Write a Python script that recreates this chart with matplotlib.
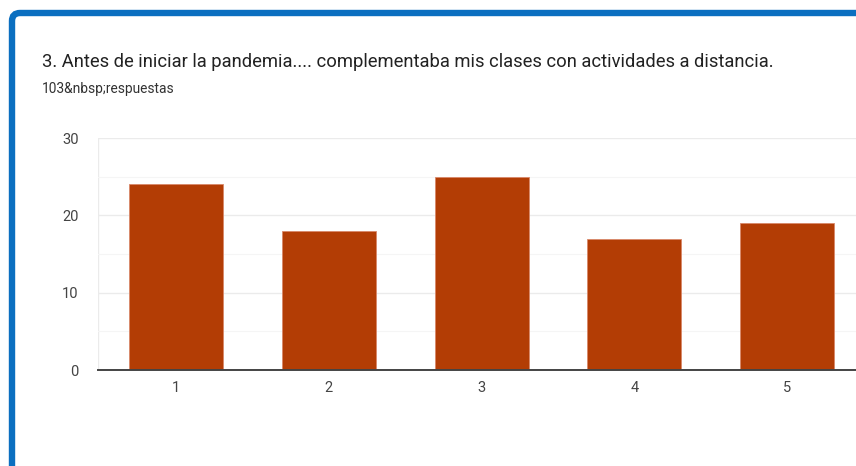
import matplotlib.pyplot as plt
from matplotlib.patches import FancyBboxPatch
from matplotlib.transforms import IdentityTransform

plt.rcParams['font.family'] = ['Roboto', 'DejaVu Sans']

# data
categorias = [1, 2, 3, 4, 5]
respuestas = [24, 18, 25, 17, 19]
y_ticks = [0, 10, 20, 30]

titulo = '3. Antes de iniciar la pandemia.... complementaba mis clases con actividades a distancia.'
subtitulo = '103&nbsp;respuestas'

W, H = 856, 466
fig = plt.figure(figsize=(W / 100, H / 100), dpi=100)

# marco azul (esquina redondeada arriba-izquierda)
marco = FancyBboxPatch((12, 0 - 50), W + 100, H - 13 + 50,
                       boxstyle='round,pad=0,rounding_size=8',
                       linewidth=4.6, edgecolor='#0b6fc0', facecolor='none',
                       transform=IdentityTransform())
fig.patches.append(marco)

fig.text(42 / W, 1 - 62 / H, titulo, fontsize=13.25, color='#222222', va='center', ha='left')
fig.text(42 / W, 1 - 89 / H, subtitulo, fontsize=9.9, color='#333333', va='center', ha='left')

ax = fig.add_axes([98 / W, 1 - 370 / H, 1 - 98 / W, (370 - 138) / H])
ax.bar(categorias, respuestas, width=0.615, color='#b33d05', edgecolor='#d9886a', linewidth=0.6, zorder=3)

ax.set_xlim(0.49, 5.45)
ax.set_ylim(0, 30)
ax.set_yticks(y_ticks)
ax.set_yticks([5, 15, 25], minor=True)
ax.set_xticks(categorias)
ax.grid(axis='y', which='major', color='#ebebeb', linewidth=1, zorder=0)
ax.grid(axis='y', which='minor', color='#f5f5f5', linewidth=0.8, zorder=0)
ax.tick_params(axis='both', which='both', length=0, labelsize=10.5, labelcolor='#444444')
ax.tick_params(axis='y', pad=14)
ax.tick_params(axis='x', pad=8)

for s in ['top', 'right', 'left']:
    ax.spines[s].set_visible(False)
ax.spines['bottom'].set_color('#444444')
ax.spines['bottom'].set_linewidth(1.4)
ax.spines['bottom'].set_zorder(4)

# linea vertical izquierda del grid
ax.axvline(0.49, color='#ebebeb', linewidth=1, zorder=0)

fig.savefig('out.png', dpi=100)
